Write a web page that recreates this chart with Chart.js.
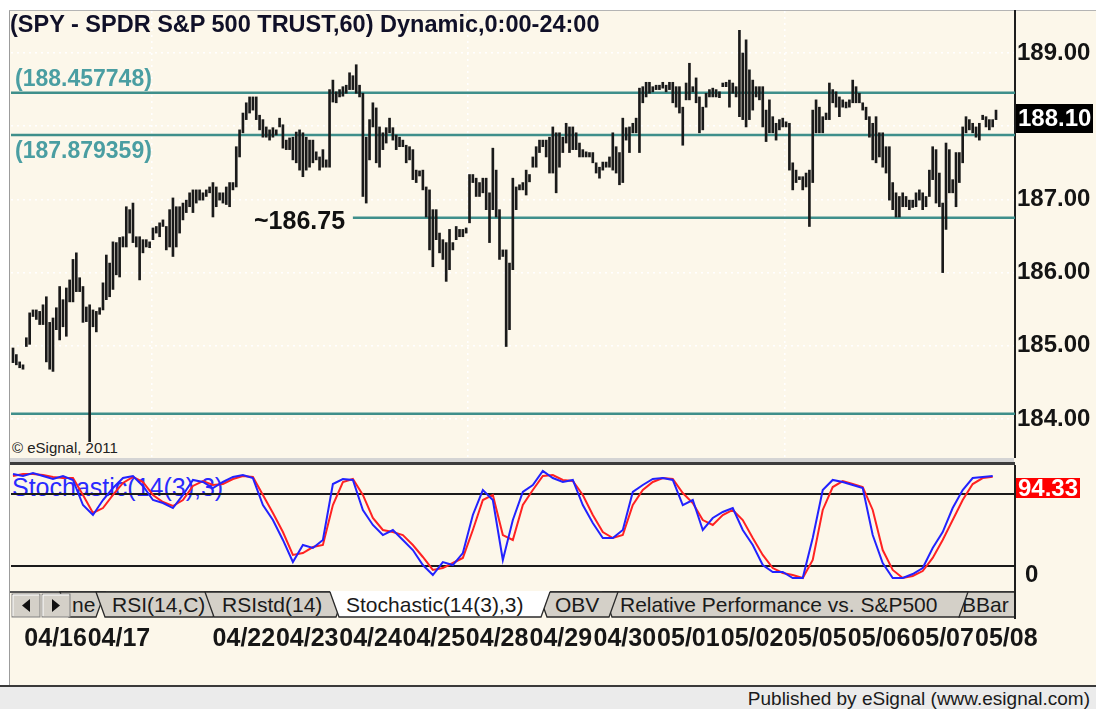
<!DOCTYPE html>
<html>
<head>
<meta charset="utf-8">
<script src="https://cdn.jsdelivr.net/npm/chart.js@4.4.1/dist/chart.umd.min.js"></script>
<style>
  html, body { margin: 0; padding: 0; }
  body { width: 1096px; height: 709px; position: relative; overflow: hidden; background: #ffffff; font-family: Arial, "Liberation Sans", sans-serif; }
  .abs { position: absolute; white-space: nowrap; }
  #panel { left: 9px; top: 10px; width: 1087px; height: 676px; background: #fcf7ea; border-left: 1px solid #9c9c9c; border-top: 1px solid #b4b4b4; box-sizing: border-box; z-index: 0; }
  #footer { left: 0; top: 685px; width: 1096px; height: 24px; background: #ebebeb; border-top: 2px solid #3a3a3a; box-sizing: border-box; z-index: 5; }
  #footer span { position: absolute; right: 6px; top: 1px; font-size: 19px; line-height: 22px; color: #1a1a1a; }
  canvas { position: absolute; left: 0; z-index: 2; }
  #price { top: 0; }
  #stoch { top: 458px; }
  .title { left: 10px; top: 10px; font-size: 23.5px; line-height: 28px; font-weight: bold; color: #101028; z-index: 3; }
  .lvl { font-weight: bold; font-size: 23px; line-height: 26px; color: #4a9ea2; z-index: 3; }
  .mark { font-weight: bold; font-size: 25px; line-height: 28px; color: #111111; z-index: 3; }
  .copy { font-size: 15px; line-height: 16px; color: #222; z-index: 1; }
  .stlabel { font-size: 25px; line-height: 28px; color: #2a2aff; z-index: 1; }
  .sep1 { left: 10px; top: 458px; width: 1004px; height: 4px; background: #d4d4d4; z-index: 3; }
  .sep2 { left: 10px; top: 462px; width: 1005px; height: 3px; background: #3c3c3c; z-index: 3; }
  #tabs { left: 10px; top: 591px; z-index: 4; }
</style>
</head>
<body>
<div id="panel" class="abs"></div>
<div class="abs stlabel" style="left:12px; top:473px;">Stochastic(14(3),3)</div>
<div class="abs copy" style="left:12px; top:440px;">© eSignal, 2011</div>

<canvas id="price" width="1096" height="458"></canvas>
<canvas id="stoch" width="1096" height="228"></canvas>

<div class="abs title">(SPY - SPDR S&amp;P 500 TRUST,60) Dynamic,0:00-24:00</div>
<div class="abs lvl" style="left:15px; top:65px;">(188.457748)</div>
<div class="abs lvl" style="left:15px; top:137px;">(187.879359)</div>
<div class="abs mark" style="left:254px; top:206px;">~186.75</div>
<div class="abs sep1"></div>
<div class="abs sep2"></div>

<svg id="tabs" class="abs" width="1006" height="28" viewBox="0 0 1006 28" font-family="Arial, 'Liberation Sans', sans-serif" font-size="21">
  <rect x="0" y="0" width="1006" height="28" fill="#fcf7ea"/>
  <line x1="0" y1="1" x2="1004" y2="1" stroke="#555" stroke-width="2"/>
  <polygon points="50,1 59,26 86,26 95,1" fill="#d4d0c8" stroke="#2a2a2a" stroke-width="1.3"/>
  <text x="62" y="21" fill="#1a1a1a">ne</text>
  <polygon points="86,1 95,26 203,26 212,1" fill="#d4d0c8" stroke="#2a2a2a" stroke-width="1.3"/>
  <text x="102" y="21" fill="#1a1a1a">RSI(14,C)</text>
  <polygon points="195,1 204,26 326,26 335,1" fill="#d4d0c8" stroke="#2a2a2a" stroke-width="1.3"/>
  <text x="212" y="21" fill="#1a1a1a">RSIstd(14)</text>
  <polygon points="940,1 949,26 1011,26 1020,1" fill="#d4d0c8" stroke="#2a2a2a" stroke-width="1.3"/>
  <text x="952" y="21" fill="#1a1a1a">BBar</text>
  <polygon points="593,1 602,26 949,26 958,1" fill="#d4d0c8" stroke="#2a2a2a" stroke-width="1.3"/>
  <text x="610" y="21" fill="#1a1a1a">Relative Performance vs. S&amp;P500</text>
  <polygon points="528,1 537,26 599,26 608,1" fill="#d4d0c8" stroke="#2a2a2a" stroke-width="1.3"/>
  <text x="545" y="21" fill="#1a1a1a">OBV</text>
  <polygon points="320,0 329,26 531,26 540,0" fill="#ffffff"/>
  <polyline points="320,1 329,26 531,26 540,1" fill="none" stroke="#2a2a2a" stroke-width="1.3"/>
  <text x="336" y="21" fill="#1a1a1a">Stochastic(14(3),3)</text>
  <rect x="2" y="3" width="28" height="23" fill="#d4d0c8" stroke="#808080"/>
  <polyline points="3,25 3,4 29,4" fill="none" stroke="#ffffff"/>
  <polygon points="20,8 12,14.5 20,21" fill="#111"/>
  <rect x="32" y="3" width="28" height="23" fill="#d4d0c8" stroke="#808080"/>
  <polyline points="33,25 33,4 59,4" fill="none" stroke="#ffffff"/>
  <polygon points="42,8 50,14.5 42,21" fill="#111"/>
  <line x1="1005" y1="0" x2="1005" y2="28" stroke="#1e1e1e" stroke-width="2"/>
</svg>

<div id="footer" class="abs"><span>Published by eSignal (www.esignal.com)</span></div>

<script>
// hourly bars, high / low (price)
const priceHigh = [
  184.97,184.88,184.78,184.74,185.11,185.45,185.49,185.49,185.47,185.56,
  185.67,185.32,185.38,185.52,185.81,185.63,185.79,185.90,186.18,186.27,
  185.93,185.81,185.53,185.56,185.49,185.47,185.52,185.86,186.24,186.13,
  186.42,186.41,186.48,186.49,186.90,186.86,186.95,186.49,186.49,186.45,
  186.45,186.42,186.61,186.63,186.68,186.72,186.63,186.86,187.02,186.90,
  186.90,186.95,186.99,187.09,187.13,187.13,187.13,187.09,187.13,187.17,
  187.23,187.17,187.09,187.09,187.17,187.23,187.23,187.72,187.95,188.18,
  188.32,188.40,188.40,188.40,188.15,188.09,187.99,187.95,187.98,187.95,
  188.11,188.02,187.81,187.84,187.85,187.92,187.95,187.91,187.85,187.81,
  187.81,187.65,187.58,187.68,187.54,188.50,188.63,188.47,188.50,188.54,
  188.56,188.73,188.69,188.84,188.56,188.45,187.85,188.09,188.32,188.25,
  187.99,187.91,187.98,188.11,187.98,187.88,187.85,187.81,187.74,187.72,
  187.68,187.40,187.39,187.40,187.17,187.13,186.86,186.86,186.54,186.45,
  186.41,186.59,186.41,186.63,186.59,186.59,186.61,187.34,187.34,187.29,
  187.23,187.29,187.29,187.09,187.70,187.40,186.86,186.31,186.31,186.13,
  187.29,187.17,187.20,187.23,187.40,187.34,187.58,187.72,187.81,187.81,
  187.81,187.85,187.99,187.91,187.91,187.85,188.04,187.99,187.99,187.91,
  187.77,187.68,187.65,187.64,187.64,187.50,187.44,187.51,187.51,187.58,
  187.91,187.72,187.64,188.11,187.98,187.99,188.04,188.11,188.52,188.54,
  188.60,188.60,188.54,188.56,188.56,188.60,188.56,188.60,188.60,188.54,
  188.54,188.26,188.59,188.86,188.54,188.66,188.40,188.26,188.45,188.50,
  188.52,188.50,188.47,188.59,188.60,188.63,188.59,188.54,189.31,189.00,
  189.18,188.77,188.63,188.54,188.54,188.54,188.22,188.36,188.13,188.04,
  188.09,188.11,188.06,188.04,187.50,187.40,187.31,187.31,187.36,187.40,
  188.22,188.36,188.26,188.13,188.18,188.59,188.50,188.47,188.40,188.36,
  188.33,188.36,188.63,188.54,188.45,188.32,188.26,188.13,188.04,188.13,
  187.91,187.91,187.72,187.72,187.23,187.09,187.04,187.09,187.04,186.99,
  186.99,187.09,187.13,187.09,187.04,187.40,187.72,187.68,187.36,186.95,
  187.77,187.68,187.27,187.64,187.64,187.99,188.13,188.09,188.04,187.99,
  188.04,188.15,188.13,188.09,188.09,188.22
];
const priceLow = [
  184.77,184.74,184.70,184.68,184.99,185.02,185.40,185.36,185.29,185.29,
  184.78,184.68,184.65,185.22,185.08,185.26,185.13,185.60,185.60,185.74,
  185.74,185.32,185.33,183.69,185.26,185.19,185.43,185.49,185.63,185.67,
  185.77,185.97,185.94,186.35,186.35,186.54,186.41,186.35,185.90,186.27,
  186.35,186.34,186.45,186.54,186.49,186.63,186.31,186.35,186.22,186.35,
  186.54,186.72,186.82,186.90,186.82,186.95,186.99,186.99,187.04,187.09,
  186.76,186.90,186.99,186.95,186.93,186.90,187.13,187.17,187.58,187.91,
  188.09,188.18,188.22,188.09,187.95,187.85,187.85,187.81,187.85,187.88,
  187.99,187.70,187.68,187.68,187.54,187.50,187.40,187.31,187.40,187.44,
  187.50,187.54,187.40,187.44,187.44,187.44,188.33,188.32,188.40,188.41,
  188.45,188.50,188.50,188.45,188.40,187.04,186.95,187.54,187.99,187.50,
  187.44,187.68,187.77,187.91,187.81,187.68,187.72,187.72,187.50,187.54,
  187.27,187.23,187.32,187.13,186.76,186.31,186.08,186.45,186.27,186.18,
  185.88,186.04,186.31,186.45,186.49,186.49,186.54,186.68,187.23,187.04,
  187.04,187.09,186.86,186.41,186.86,186.76,186.18,186.22,184.99,185.22,
  186.04,186.86,187.13,187.13,187.06,187.24,187.44,187.44,187.64,187.72,
  187.58,187.36,187.36,187.09,187.44,187.64,187.77,187.64,187.68,187.68,
  187.58,187.58,187.58,187.58,187.50,187.36,187.29,187.40,187.44,187.44,
  187.40,187.36,187.20,187.23,187.81,187.64,187.91,187.91,187.64,188.32,
  188.40,188.45,188.47,188.50,188.50,188.52,188.47,188.50,188.32,188.26,
  188.18,187.74,188.36,188.36,188.47,188.32,187.91,187.95,188.26,188.40,
  188.40,188.40,188.39,188.54,188.54,188.26,188.45,188.40,188.13,188.09,
  187.99,188.09,188.22,188.40,188.36,187.99,187.79,187.91,187.91,187.81,
  187.95,187.99,187.99,187.40,187.13,187.23,187.27,187.13,187.17,186.63,
  187.23,187.91,187.91,187.91,188.09,188.09,188.32,188.26,188.13,188.26,
  188.25,188.26,188.32,188.32,188.32,188.22,188.09,187.85,187.54,187.50,
  187.58,187.44,187.36,186.99,186.86,186.76,186.76,186.90,186.90,186.86,
  186.89,186.90,186.99,186.86,186.90,187.04,187.27,186.95,186.90,186.00,
  186.59,187.09,187.09,186.90,187.23,187.50,187.91,187.95,187.91,187.85,
  187.81,188.09,187.99,187.95,187.99,188.09
];
const lastClose = 188.10;
const priceTicks = [184, 185, 186, 187, 188, 189];

// horizontal levels drawn on the price pane (teal)
const levels = [188.457748, 187.879359, 186.75, 184.07];
const levelStartBar = [null, null, 102, null];

// stochastic %K (blue) and %D (red), one value every 3 bars
const STOCH_STEP = 3;
const stochK = [
  96.7,95.0,97.5,95.0,92.5,95.0,91.7,70.8,62.5,75.0,
  85.0,93.3,95.0,86.7,75.0,72.5,68.3,79.2,91.7,90.0,
  85.0,90.0,94.2,95.8,93.3,70.8,58.3,41.7,23.3,37.5,
  35.0,41.7,88.3,92.5,91.7,66.7,54.2,45.8,50.0,41.7,
  33.3,20.8,12.5,23.3,20.8,30.8,62.5,83.3,75.0,25.0,
  58.3,81.7,87.5,99.2,93.3,90.0,91.7,70.8,55.8,43.3,
  43.3,50.0,81.7,87.5,92.5,93.3,91.7,70.8,75.0,50.0,
  60.0,65.0,68.3,50.0,37.5,20.8,15.0,15.0,10.0,10.0,
  43.3,83.3,91.7,90.0,87.5,85.0,45.8,22.5,10.0,10.0,
  13.3,18.3,35.0,48.3,68.3,83.3,93.3,94.2,95.0
];
const stochD = [
  95.0,96.7,96.7,95.8,94.2,93.3,93.3,79.2,64.2,68.3,
  79.2,89.2,94.2,90.0,79.2,73.3,70.0,75.0,86.7,90.8,
  87.5,88.3,92.5,95.0,94.2,79.2,64.2,48.3,29.2,30.8,
  35.8,37.5,70.8,90.0,92.5,79.2,60.0,50.0,48.3,45.8,
  37.5,27.5,16.7,18.3,22.5,26.7,50.0,75.0,79.2,45.8,
  41.7,70.8,83.3,95.0,95.8,91.7,90.8,79.2,62.5,48.3,
  43.3,45.8,70.8,83.3,90.0,93.3,92.5,80.8,72.5,58.3,
  54.2,62.5,66.7,58.3,43.3,29.2,18.3,14.2,12.5,10.0,
  25.0,66.7,85.8,90.8,88.3,85.8,66.7,33.3,16.7,10.0,
  11.7,15.8,26.7,41.7,58.3,75.0,88.3,93.3,94.33
];
const lastStoch = 94.33;
const stochLevels = [80, 20];
const stochTicks = [0];

// date axis (bar index where each label starts) and week grid lines
const dateLabels = ['04/16','04/17','04/22','04/23','04/24','04/25','04/28','04/29','04/30','05/01','05/02','05/05','05/06','05/07','05/08'];
const dateTickBars = [3.4, 22.4, 59.9, 78.9, 97.9, 116.9, 135.9, 155.0, 174.2, 193.3, 212.4, 231.4, 250.5, 269.6, 288.7];
const weekStartBars = [41.5, 136.5, 231.5];

const X_MIN = -0.6, X_MAX = 300.7;
const AXIS_W = 81;
const FONT = 'Arial, "Liberation Sans", sans-serif';
const axisFont = { family: FONT, weight: 'bold', size: 24 };
const dateFont = { family: FONT, weight: 'bold', size: 25 };

// keep the plot area exactly where the layout padding puts it
function noLabelPadding(s) {
  s.paddingLeft = 0; s.paddingRight = 0; s.paddingTop = 0; s.paddingBottom = 0;
}

// last-value box on the right axis
const valueBox = {
  id: 'valueBox',
  afterDraw(chart, args, opts) {
    const ctx = chart.ctx;
    const y = chart.scales.y;
    const py = Math.round(y.getPixelForValue(opts.value));
    ctx.save();
    ctx.fillStyle = opts.background;
    ctx.fillRect(y.left + 1, py + opts.offset, opts.width, opts.height);
    ctx.fillStyle = opts.color;
    ctx.font = 'bold 24px ' + FONT;
    ctx.textBaseline = 'middle';
    ctx.fillText(opts.text, y.left + 3, py + opts.offset + opts.height / 2 + 1);
    ctx.restore();
  }
};

function levelLine(value, start, color) {
  return {
    type: 'line',
    data: [{ x: start == null ? X_MIN : start, y: value }, { x: X_MAX, y: value }],
    borderColor: color,
    borderWidth: 2.5,
    pointRadius: 0,
    order: 5
  };
}

new Chart(document.getElementById('price'), {
  type: 'bar',
  data: {
    datasets: [
      {
        type: 'bar',
        data: priceHigh.map((h, i) => ({ x: i, y: [priceLow[i], h] })),
        backgroundColor: '#1a1a1a',
        barThickness: 2,
        order: 0
      },
      ...levels.map((v, k) => levelLine(v, levelStartBar[k], '#3f8f8b'))
    ]
  },
  options: {
    responsive: false,
    animation: false,
    events: [],
    layout: { padding: { left: 11, top: 11, right: 0, bottom: 0 } },
    plugins: {
      legend: { display: false },
      tooltip: { enabled: false },
      valueBox: { value: lastClose, text: lastClose.toFixed(2), background: '#000000', color: '#ffffff', offset: -15, height: 29, width: 77 }
    },
    scales: {
      x: {
        type: 'linear', min: X_MIN, max: X_MAX, offset: false,
        afterFit: s => { s.height = 0; noLabelPadding(s); },
        afterBuildTicks: s => { s.ticks = weekStartBars.map(v => ({ value: v })); },
        ticks: { display: false },
        grid: { color: '#ffffff', lineWidth: 1.5, drawTicks: false, offset: false },
        border: { display: false, dash: [2, 4] }
      },
      y: {
        type: 'linear', position: 'right', min: 183.467, max: 189.574,
        afterFit: s => { s.width = AXIS_W; noLabelPadding(s); },
        afterBuildTicks: s => { s.ticks = priceTicks.map(v => ({ value: v })); },
        ticks: {
          callback: v => (Math.abs(v - lastClose) < 0.25 ? '' : v.toFixed(2)),
          color: '#141414', font: axisFont, padding: 2, crossAlign: 'near'
        },
        grid: { color: '#ffffff', lineWidth: 1.5, drawTicks: false },
        border: { display: true, color: '#1e1e1e', width: 2, dash: [2, 4] }
      }
    }
  },
  plugins: [valueBox]
});

new Chart(document.getElementById('stoch'), {
  type: 'line',
  data: {
    datasets: [
      { data: stochK.map((v, k) => ({ x: k * STOCH_STEP, y: v })), borderColor: '#2222ff', borderWidth: 2, pointRadius: 0, order: 0 },
      { data: stochD.map((v, k) => ({ x: k * STOCH_STEP, y: v })), borderColor: '#ff2222', borderWidth: 2, pointRadius: 0, order: 1 },
      ...stochLevels.map(v => ({
        data: [{ x: X_MIN, y: v }, { x: X_MAX, y: v }],
        borderColor: '#1a1a1a', borderWidth: 2, pointRadius: 0, order: 5
      }))
    ]
  },
  options: {
    responsive: false,
    animation: false,
    events: [],
    layout: { padding: { left: 11, top: 8, right: 0, bottom: 0 } },
    plugins: {
      legend: { display: false },
      tooltip: { enabled: false },
      valueBox: { value: lastStoch, text: lastStoch.toFixed(2), background: '#ff0000', color: '#ffffff', offset: 1, height: 20, width: 64 }
    },
    scales: {
      x: {
        type: 'linear', min: X_MIN, max: X_MAX, offset: false,
        afterFit: s => { s.height = 94; noLabelPadding(s); },
        afterBuildTicks: s => { s.ticks = dateTickBars.map(v => ({ value: v })); },
        ticks: {
          callback: (v, i) => dateLabels[i],
          align: 'start', autoSkip: false, maxRotation: 0, minRotation: 0,
          padding: 24, color: '#161616', font: dateFont
        },
        grid: { display: false },
        border: { display: false }
      },
      y: {
        type: 'linear', position: 'right', min: -1.67, max: 103.33,
        afterFit: s => { s.width = AXIS_W; noLabelPadding(s); },
        afterBuildTicks: s => { s.ticks = stochTicks.map(v => ({ value: v })); },
        ticks: { callback: v => String(v), labelOffset: -15, padding: 2, color: '#141414', font: axisFont, crossAlign: 'near' },
        grid: { display: false },
        border: { display: true, color: '#1e1e1e', width: 2 }
      }
    }
  },
  plugins: [valueBox]
});
</script>
</body>
</html>
